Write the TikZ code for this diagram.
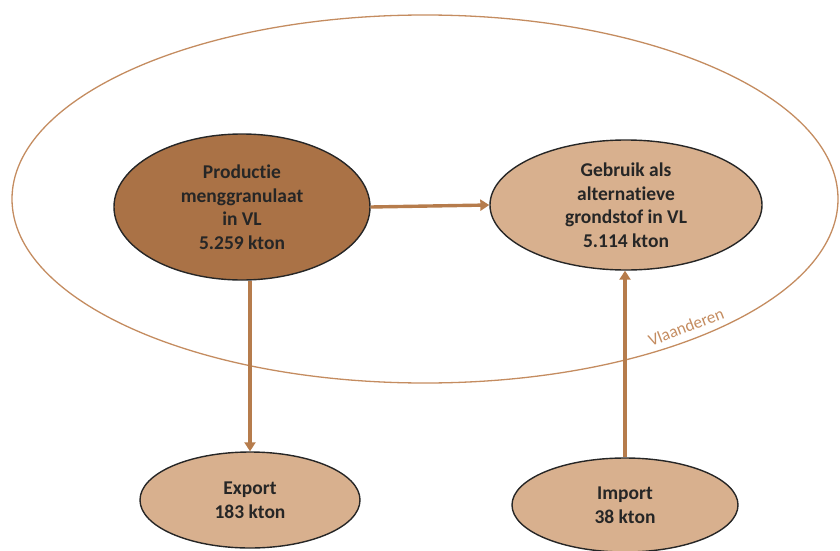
\documentclass[tikz,border=0pt]{standalone}
\usepackage{fontspec}
\setmainfont[Ligatures = NoCommon]{Carlito}
\usetikzlibrary{shapes.geometric,arrows.meta}

\definecolor{donker}{RGB}{170,114,70}
\definecolor{licht}{RGB}{216,176,142}
\definecolor{pijl}{RGB}{182,124,76}
\definecolor{rand}{RGB}{196,140,96}

\begin{document}
\begin{tikzpicture}[x = 1pt, y = -1pt,
    every node/.style = {shape = ellipse, draw = black!85, line width = 1.4pt, inner sep = 0pt, align = center, font = \bfseries\fontsize{19.5}{23.5}\selectfont, text = black!85},
    stroom/.style = {draw = pijl, line width = 3.4pt, -{Triangle[width = 11pt, length = 9pt]}}]
	\useasboundingbox (0,0) rectangle (840,551);
	%\fill[white] (0,0) rectangle (840,551);
	\node[draw = rand, line width = 1.3pt, minimum width = 826pt, minimum height = 368pt] (vl) at (425, 199) {};
	\node[draw = none, shape = rectangle, font = \fontsize{17}{19}\selectfont, text = rand, rotate = 21] (vllabel) at (686, 327) {Vlaanderen};
    	\node[fill = donker, minimum width = 256pt, minimum height = 146pt] (prod) at (242, 207) {Productie\\menggranulaat\\in VL\\5.259 kton};
    	\node[fill = licht, minimum width = 272pt, minimum height = 130pt] (gebr) at (626, 205) {Gebruik als\\alternatieve\\grondstof in VL\\5.114 kton};
    	\node[fill = licht, minimum width = 220pt, minimum height = 96pt] (exp) at (250, 500) {Export\\183 kton};
    	\node[fill = licht, minimum width = 226pt, minimum height = 94pt] (imp) at (625, 505) {Import\\38 kton};
	\draw[stroom] (prod.east) -- (gebr.west);
	\draw[stroom] (prod.south -| exp.north) -- (exp.north);
	\draw[stroom] (imp.north) -- (imp.north |- gebr.south);
    \end{tikzpicture}
\end{document}
